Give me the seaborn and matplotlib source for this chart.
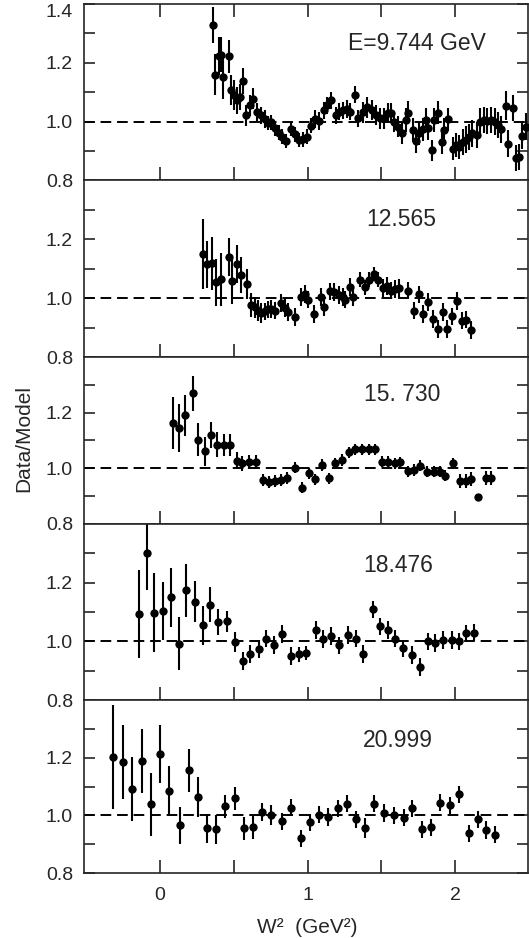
import numpy as np
import pandas as pd
import matplotlib
matplotlib.use("Agg")
import matplotlib.pyplot as plt
from matplotlib.ticker import FixedLocator, NullFormatter
import seaborn as sns

# ---------------- data ----------------
labels = ["E=9.744 GeV", "12.565", "15. 730", "18.476", "20.999"]
label_x = [1.74, 1.632, 1.642, 1.615, 1.61]
label_y = [1.266, 1.269, 1.265, 1.259, 1.259]

x1 = [0.36, 0.376, 0.399, 0.417, 0.428, 0.466, 0.48, 0.502, 0.525, 0.541,
      0.563, 0.586, 0.608, 0.631, 0.66, 0.683, 0.71, 0.732, 0.755, 0.782,
      0.804, 0.827, 0.856, 0.89, 0.912, 0.939, 0.968, 0.998, 1.025, 1.052,
      1.081, 1.111, 1.133, 1.16, 1.194, 1.216, 1.239, 1.268, 1.291, 1.322,
      1.345, 1.374, 1.403, 1.435, 1.464, 1.493, 1.52, 1.543, 1.565, 1.588,
      1.61, 1.638, 1.667, 1.678, 1.712, 1.734, 1.757, 1.779, 1.802, 1.817,
      1.84, 1.858, 1.885, 1.914, 1.925, 1.953, 1.982, 2.005, 2.027, 2.05,
      2.072, 2.095, 2.117, 2.146, 2.169, 2.196, 2.218, 2.245, 2.268, 2.29,
      2.313, 2.342, 2.358, 2.394, 2.41, 2.432, 2.455, 2.477]
y1 = [1.329, 1.159, 1.222, 1.228, 1.153, 1.222, 1.107, 1.09, 1.072, 1.084,
      1.138, 1.021, 1.055, 1.078, 1.032, 1.021, 1.009, 0.995, 0.998, 0.977,
      0.963, 0.949, 0.934, 0.975, 0.957, 0.938, 0.94, 0.949, 0.986, 1.009,
      1.003, 1.038, 1.055, 1.072, 1.021, 1.034, 1.038, 1.044, 1.034, 1.092,
      1.011, 1.032, 1.049, 1.04, 1.023, 1.011, 1.011, 1.029, 1.029, 1.0,
      0.983, 0.96, 1.006, 1.031, 0.971, 0.934, 0.96, 0.974, 1.006, 0.977,
      0.902, 1.006, 1.031, 0.931, 0.971, 1.008, 0.908, 0.92, 0.914, 0.931,
      0.939, 0.948, 0.96, 0.954, 1.0, 1.006, 1.003, 1.006, 1.0, 0.989,
      0.974, 1.054, 0.925, 1.046, 0.877, 0.879, 0.951, 0.983]
e1 = [0.06, 0.07, 0.065, 0.06, 0.075, 0.055, 0.05, 0.05, 0.045, 0.045,
      0.045, 0.035, 0.035, 0.035, 0.03, 0.03, 0.03, 0.025, 0.025, 0.025,
      0.025, 0.025, 0.025, 0.025, 0.025, 0.025, 0.025, 0.025, 0.025, 0.03,
      0.03, 0.03, 0.03, 0.03, 0.03, 0.03, 0.03, 0.03, 0.03, 0.03,
      0.03, 0.035, 0.035, 0.035, 0.035, 0.035, 0.035, 0.035, 0.035, 0.035,
      0.035, 0.035, 0.04, 0.04, 0.04, 0.04, 0.04, 0.04, 0.04, 0.04,
      0.035, 0.04, 0.04, 0.04, 0.04, 0.04, 0.04, 0.04, 0.04, 0.045,
      0.045, 0.045, 0.045, 0.045, 0.045, 0.045, 0.045, 0.045, 0.045, 0.045,
      0.045, 0.05, 0.045, 0.045, 0.045, 0.045, 0.045, 0.045]

x2 = [0.293, 0.320, 0.351, 0.383, 0.417, 0.468, 0.491, 0.525, 0.552, 0.593,
      0.619, 0.642, 0.664, 0.687, 0.709, 0.732, 0.755, 0.777, 0.822, 0.845,
      0.867, 0.912, 0.953, 0.98, 1.002, 1.047, 1.088, 1.115, 1.149, 1.182,
      1.212, 1.239, 1.257, 1.288, 1.311, 1.356, 1.39, 1.419, 1.453, 1.48,
      1.509, 1.536, 1.565, 1.592, 1.622, 1.678, 1.718, 1.753, 1.78, 1.818,
      1.848, 1.883, 1.917, 1.946, 1.978, 2.015, 2.049, 2.076, 2.106]
y2 = [1.150, 1.116, 1.119, 1.054, 1.065, 1.139, 1.060, 1.116, 1.079, 1.048,
      0.977, 0.969, 0.958, 0.950, 0.955, 0.962, 0.964, 0.958, 0.984, 0.966,
      0.953, 0.936, 1.003, 1.015, 0.995, 0.947, 1.003, 0.969, 1.023, 1.02,
      1.011, 1.003, 0.995, 1.037, 1.003, 1.063, 1.037, 1.063, 1.082, 1.063,
      1.034, 1.041, 1.026, 1.032, 1.034, 1.026, 0.958, 1.013, 0.947, 0.987,
      0.929, 0.895, 0.953, 0.895, 0.938, 0.99, 0.924, 0.927, 0.892]
e2 = [0.12, 0.08, 0.09, 0.08, 0.09, 0.065, 0.08, 0.065, 0.06, 0.05,
      0.04, 0.035, 0.035, 0.035, 0.03, 0.03, 0.03, 0.03, 0.03, 0.03,
      0.03, 0.03, 0.03, 0.03, 0.03, 0.03, 0.03, 0.03, 0.03, 0.03,
      0.03, 0.03, 0.03, 0.03, 0.03, 0.025, 0.025, 0.025, 0.025, 0.025,
      0.03, 0.03, 0.03, 0.03, 0.03, 0.03, 0.03, 0.03, 0.03, 0.03,
      0.03, 0.03, 0.03, 0.03, 0.03, 0.03, 0.03, 0.03, 0.03]

x3 = [0.086, 0.128, 0.169, 0.221, 0.255, 0.304, 0.345, 0.39, 0.432, 0.473,
      0.523, 0.559, 0.604, 0.649, 0.698, 0.739, 0.782, 0.822, 0.863, 0.917,
      0.962, 1.007, 1.052, 1.097, 1.144, 1.189, 1.232, 1.279, 1.324, 1.37,
      1.414, 1.459, 1.502, 1.547, 1.592, 1.626, 1.678, 1.718, 1.761, 1.809,
      1.854, 1.896, 1.932, 1.982, 2.032, 2.072, 2.11, 2.157, 2.211, 2.241]
y3 = [1.164, 1.145, 1.19, 1.269, 1.103, 1.061, 1.119, 1.085, 1.085, 1.085,
      1.027, 1.018, 1.022, 1.022, 0.958, 0.952, 0.955, 0.958, 0.966, 1.002,
      0.93, 0.982, 0.96, 1.012, 0.964, 1.018, 1.03, 1.058, 1.069, 1.069,
      1.069, 1.069, 1.024, 1.024, 1.018, 1.022, 0.99, 0.994, 1.01, 0.988,
      0.988, 0.988, 0.973, 1.018, 0.954, 0.954, 0.961, 0.897, 0.966, 0.966]
e3 = [0.093, 0.087, 0.074, 0.064, 0.06, 0.053, 0.047, 0.044, 0.04, 0.04,
      0.03, 0.028, 0.025, 0.025, 0.022, 0.022, 0.022, 0.022, 0.022, 0.02,
      0.02, 0.02, 0.02, 0.02, 0.02, 0.02, 0.02, 0.02, 0.02, 0.02,
      0.02, 0.02, 0.02, 0.02, 0.02, 0.02, 0.02, 0.02, 0.02, 0.02,
      0.02, 0.02, 0.02, 0.02, 0.025, 0.025, 0.025, 0.0, 0.025, 0.025]

x4 = [-0.140, -0.086, -0.041, 0.022, 0.076, 0.130, 0.180, 0.239, 0.289, 0.338,
      0.394, 0.455, 0.509, 0.563, 0.613, 0.671, 0.721, 0.775, 0.829, 0.890,
      0.941, 0.991, 1.059, 1.108, 1.158, 1.212, 1.272, 1.329, 1.378, 1.441,
      1.491, 1.543, 1.595, 1.649, 1.707, 1.761, 1.813, 1.865, 1.919, 1.978,
      2.027, 2.076, 2.13]
y4 = [1.092, 1.301, 1.098, 1.103, 1.150, 0.992, 1.174, 1.135, 1.054, 1.125,
      1.066, 1.068, 0.998, 0.933, 0.956, 0.974, 1.009, 0.988, 1.024, 0.951,
      0.956, 0.960, 1.039, 1.007, 1.019, 0.986, 1.021, 1.009, 0.956, 1.109,
      1.051, 1.039, 1.009, 0.976, 0.953, 0.913, 1.0, 0.995, 1.004, 1.004,
      1.0, 1.027, 1.03]
e4 = [0.15, 0.125, 0.135, 0.10, 0.10, 0.09, 0.09, 0.07, 0.065, 0.06,
      0.045, 0.035, 0.035, 0.03, 0.03, 0.03, 0.03, 0.03, 0.03, 0.03,
      0.025, 0.025, 0.03, 0.03, 0.03, 0.03, 0.03, 0.03, 0.03, 0.03,
      0.03, 0.03, 0.03, 0.03, 0.03, 0.03, 0.03, 0.03, 0.03, 0.03,
      0.03, 0.03, 0.03]

x5 = [-0.320, -0.250, -0.187, -0.124, -0.061, 0.000, 0.061, 0.135, 0.196, 0.259,
      0.322, 0.383, 0.444, 0.507, 0.568, 0.630, 0.691, 0.755, 0.826, 0.890,
      0.953, 1.014, 1.076, 1.142, 1.205, 1.266, 1.329, 1.390, 1.453, 1.516,
      1.583, 1.651, 1.711, 1.775, 1.836, 1.899, 1.966, 2.027, 2.095, 2.155,
      2.207, 2.270]
y5 = [1.202, 1.185, 1.092, 1.188, 1.038, 1.212, 1.085, 0.965, 1.156, 1.063,
      0.955, 0.951, 1.032, 1.059, 0.955, 0.959, 1.012, 1.002, 0.979, 1.026,
      0.920, 0.976, 1.002, 0.994, 1.024, 1.041, 0.986, 0.955, 1.041, 1.008,
      1.0, 0.992, 1.024, 0.951, 0.959, 1.044, 1.035, 1.073, 0.938, 0.986,
      0.949, 0.933]
e5 = [0.18, 0.13, 0.11, 0.11, 0.11, 0.10, 0.085, 0.065, 0.075, 0.07,
      0.05, 0.05, 0.04, 0.04, 0.04, 0.04, 0.03, 0.035, 0.03, 0.03,
      0.03, 0.03, 0.03, 0.03, 0.03, 0.03, 0.03, 0.035, 0.03, 0.03,
      0.03, 0.03, 0.03, 0.03, 0.03, 0.03, 0.03, 0.03, 0.03, 0.03,
      0.03, 0.03]

panels = [(x1, y1, e1), (x2, y2, e2), (x3, y3, e3), (x4, y4, e4), (x5, y5, e5)]

# ---------------- style ----------------
sns.set_style("ticks")
plt.rcParams["font.family"] = ["Liberation Sans", "DejaVu Sans"]
plt.rcParams["axes.linewidth"] = 1.2

W, H = 529, 938
fig = plt.figure(figsize=(W / 100, H / 100), dpi=100)
gs = fig.add_gridspec(5, 1, left=84 / W, right=527.5 / W, top=1 - 4 / H,
                      bottom=1 - 873 / H, hspace=0,
                      height_ratios=[176.5, 176.5, 167, 176, 173])

for i, (xs, ys, es) in enumerate(panels):
    ax = fig.add_subplot(gs[i])
    df = pd.DataFrame({"x": xs, "y": ys, "e": es})
    ax.axhline(1.0, color="black", lw=1.4, ls=(0, (5.5, 3)), zorder=1)
    ax.errorbar(df["x"], df["y"], yerr=df["e"], fmt="none", ecolor="black",
                elinewidth=1.5, capsize=0, zorder=2)
    sns.scatterplot(data=df, x="x", y="y", ax=ax, color="black", s=36,
                    linewidth=0, marker="o", zorder=3, legend=False)
    ax.set_xlim(-0.514, 2.49)
    ax.set_ylim(0.8, 1.4)
    ax.set_xlabel("")
    ax.set_ylabel("")
    ax.text(label_x[i], label_y[i], labels[i], ha="center", va="center",
            fontsize=16.5)

    yt = [0.8, 1.0, 1.2, 1.4] if i == 0 else [0.8, 1.0, 1.2]
    ax.yaxis.set_major_locator(FixedLocator(yt))
    ax.set_yticklabels([f"{v:.1f}" for v in yt])
    ax.yaxis.set_minor_locator(FixedLocator([0.9, 1.1, 1.3]))
    ax.xaxis.set_major_locator(FixedLocator([0, 1, 2]))
    ax.xaxis.set_minor_locator(FixedLocator([0.5, 1.5]))
    ax.xaxis.set_minor_formatter(NullFormatter())
    if i == 4:
        ax.set_xticklabels(["0", "1", "2"])
    else:
        ax.set_xticklabels([])
    ax.tick_params(axis="x", which="both", direction="in", length=9.5,
                   width=1.2, top=(i == 0), bottom=True, pad=10,
                   labelsize=14)
    ax.tick_params(axis="y", which="both", direction="in", length=8,
                   width=1.2, left=True, right=True, pad=8, labelsize=14)
    if i == 0:
        ax.get_yticklabels()[-1].set_verticalalignment("top")
    for s in ax.spines.values():
        s.set_linewidth(1.2)

fig.text(24 / W, 1 - 438 / H, "Data/Model", rotation=90, ha="center",
         va="center", fontsize=15)
fig.text(307 / W, 1 - 927 / H, "W²  (GeV²)", ha="center", va="center",
         fontsize=15)

fig.savefig("out.png", dpi=100)
